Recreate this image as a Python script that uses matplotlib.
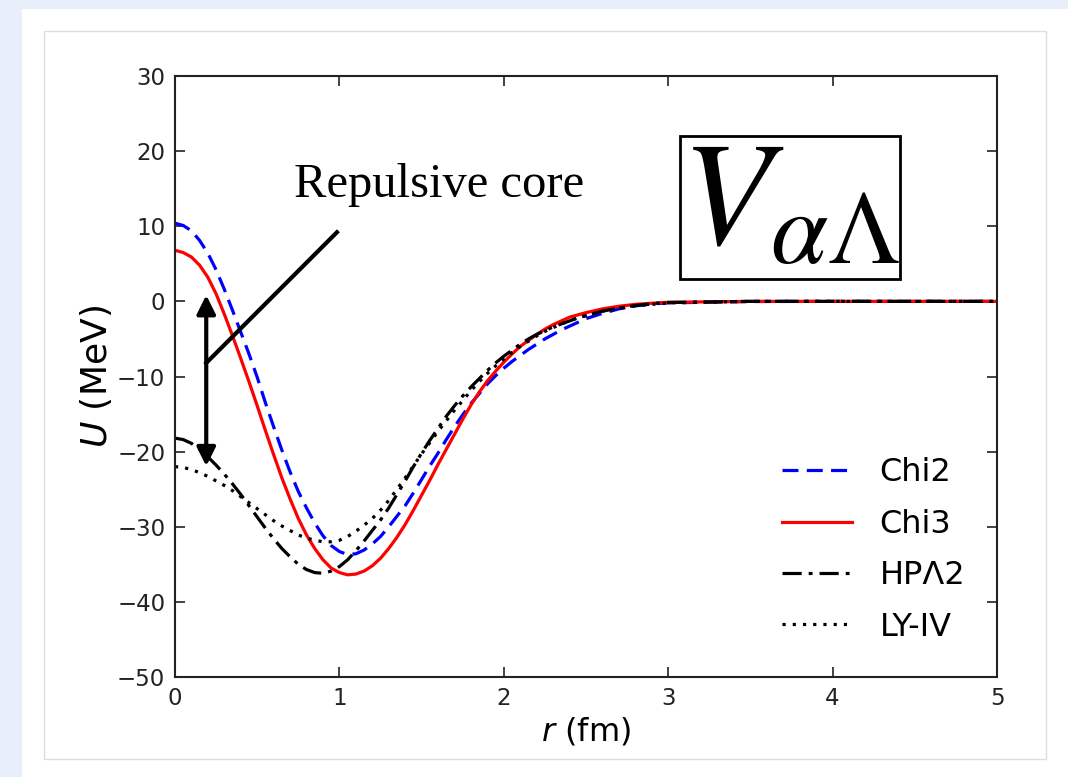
import numpy as np
import matplotlib
matplotlib.use("Agg")
import matplotlib.pyplot as plt
from matplotlib.patches import Rectangle, FancyArrowPatch

# (r in fm, U in MeV)
r = [0.0, 0.05, 0.1, 0.15, 0.2, 0.25, 0.3, 0.35, 0.4, 0.45, 0.5, 0.55, 0.6, 0.65, 0.7,
     0.75, 0.8, 0.85, 0.9, 0.95, 1.0, 1.05, 1.1, 1.15, 1.2, 1.25, 1.3, 1.35, 1.4, 1.45,
     1.5, 1.55, 1.6, 1.65, 1.7, 1.75, 1.8, 1.85, 1.9, 1.95, 2.0, 2.05, 2.1, 2.15, 2.2,
     2.25, 2.3, 2.35, 2.4, 2.45, 2.5, 2.6, 2.7, 2.8, 2.9, 3.0, 3.5, 4.0, 4.5, 5.0]
chi2 = [10.4, 10.1, 9.4, 8.1, 6.4, 4.2, 1.6, -1.2, -4.1, -7.0, -10.1, -13.5, -16.7, -19.8,
        -22.7, -25.3, -27.5, -29.5, -31.2, -32.5, -33.3, -33.7, -33.6, -33.1, -32.3, -31.3,
        -30.0, -28.6, -27.2, -25.5, -23.7, -21.9, -20.2, -18.4, -16.7, -15.1, -13.6, -12.3,
        -11.0, -9.9, -8.9, -8.0, -7.2, -6.4, -5.7, -5.0, -4.4, -3.8, -3.3, -2.8, -2.3,
        -1.6, -1.0, -0.6, -0.35, -0.2, -0.02, 0.0, 0.0, 0.0]
chi3 = [6.8, 6.5, 5.9, 4.8, 3.2, 1.0, -1.7, -4.6, -7.6, -10.7, -13.9, -17.2, -20.4, -23.5,
        -26.3, -28.9, -31.1, -32.9, -34.4, -35.5, -36.1, -36.4, -36.3, -35.9, -35.2, -34.2,
        -32.9, -31.4, -29.7, -27.8, -25.8, -23.8, -21.7, -19.7, -17.7, -15.7, -13.8, -12.1,
        -10.6, -9.3, -8.1, -7.0, -6.0, -5.2, -4.4, -3.7, -3.1, -2.6, -2.1, -1.8, -1.5,
        -1.0, -0.65, -0.4, -0.25, -0.12, 0.0, 0.0, 0.0, 0.0]
hp2 = [-18.2, -18.4, -18.9, -19.7, -20.7, -21.8, -23.0, -24.3, -25.7, -27.2, -28.7, -30.2,
       -31.6, -32.9, -34.0, -35.0, -35.7, -36.1, -36.2, -35.9, -35.3, -34.4, -33.2, -31.9,
       -30.5, -29.1, -27.5, -25.7, -23.9, -22.0, -20.2, -18.5, -16.9, -15.3, -13.9, -12.6,
       -11.4, -10.3, -9.2, -8.2, -7.3, -6.5, -5.7, -5.0, -4.4, -3.9, -3.4, -3.0, -2.6,
       -2.2, -1.9, -1.3, -0.9, -0.55, -0.3, -0.15, 0.0, 0.0, 0.0, 0.0]
ly4 = [-22.0, -22.1, -22.4, -22.8, -23.3, -23.9, -24.5, -25.2, -26.0, -26.8, -27.6, -28.4,
       -29.2, -29.9, -30.5, -31.1, -31.5, -31.8, -32.0, -32.0, -31.8, -31.3, -30.6, -29.8,
       -28.9, -27.8, -26.5, -25.0, -23.5, -21.9, -20.3, -18.8, -17.3, -15.9, -14.5, -13.2,
       -11.9, -10.7, -9.6, -8.6, -7.7, -6.8, -6.0, -5.3, -4.6, -4.0, -3.5, -3.0, -2.6,
       -2.2, -1.9, -1.3, -0.9, -0.6, -0.4, -0.2, 0.0, 0.0, 0.0, 0.0]

W, H = 1068, 777
fig = plt.figure(figsize=(W / 100, H / 100), dpi=100, facecolor="#e9effa")

# slide panel behind the plot
fig.patches.append(Rectangle((22 / W, 0), 1 - 22 / W, 1 - 9 / H, transform=fig.transFigure,
                             facecolor="white", edgecolor="none", zorder=-10))
fig.patches.append(Rectangle((44 / W, 1 - 759 / H), (1046 - 44) / W, (759 - 31) / H,
                             transform=fig.transFigure, facecolor="white",
                             edgecolor="#dddddd", lw=1, zorder=-9))

ax = fig.add_axes([175 / W, 1 - 677 / H, (997 - 175) / W, (677 - 76) / H])
ax.plot(r, chi2, color="#0000ff", ls=(0, (5, 2.6)), lw=2.3, label="Chi2")
ax.plot(r, chi3, color="#ff0000", ls="-", lw=2.3, label="Chi3")
ax.plot(r, hp2, color="black", ls=(0, (6, 2.2, 1.2, 2.2)), lw=2.3, label="HPΛ2")
ax.plot(r, ly4, color="black", ls=(0, (1, 2.2)), lw=2.3, label="LY-IV")

ax.set_xlim(0, 5)
ax.set_ylim(-50, 30)
ax.set_xticks(range(0, 6))
ax.set_yticks(range(-50, 31, 10))
ax.tick_params(direction="in", top=True, right=True, length=7, width=1.2,
               labelsize=16.5, colors="#222222", pad=7)
for s in ax.spines.values():
    s.set_linewidth(1.5)
    s.set_color("#222222")
ax.set_xlabel("$r$ (fm)", fontsize=23, labelpad=4)
ax.set_ylabel("$U$ (MeV)", fontsize=26, labelpad=2)

ax.legend(loc="center left", fontsize=23, frameon=False, handlelength=2.2,
          handletextpad=0.85, labelspacing=0.64, borderpad=0, borderaxespad=0,
          bbox_to_anchor=(782 / W, 1 - 550 / H), bbox_transform=fig.transFigure)

# annotations
ax.text(1.606, 15.5, "Repulsive core", family="Liberation Serif",
        fontsize=35, ha="center", va="center")
ax.plot([0.985, 0.19], [9.2, -8.2], color="black", lw=3)
ax.add_patch(FancyArrowPatch((0.19, -22.3), (0.19, 1.2), arrowstyle="<|-|>",
                             mutation_scale=28, lw=3, color="black"))

# V_alpha Lambda box
ax.add_patch(Rectangle((3.07, 3.0), 1.34, 19.0, fill=False, lw=2, edgecolor="black"))
ax.text(3.075, 3.6, r"$V_{\alpha\Lambda}$", fontsize=106, ha="left", va="bottom",
        math_fontfamily="stix")

fig.savefig("out.png", dpi=100, facecolor=fig.get_facecolor())
